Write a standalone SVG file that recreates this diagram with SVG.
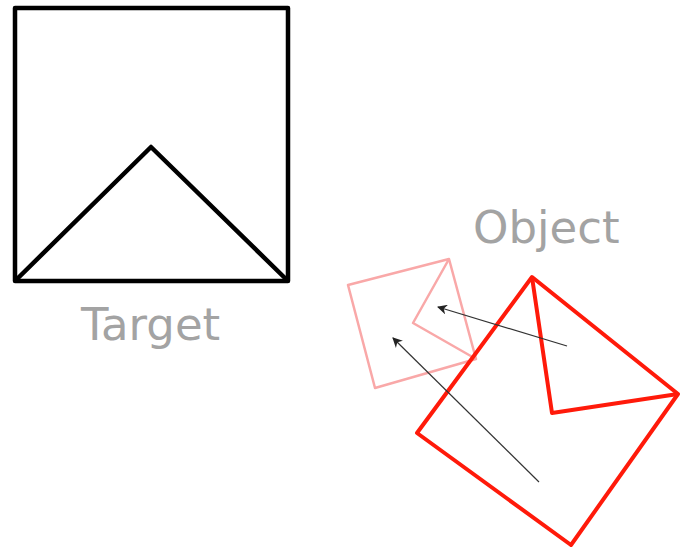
<svg xmlns="http://www.w3.org/2000/svg" width="680" height="554" viewBox="0 0 680 554">
<style>
.lbl{font-family:"DejaVu Sans",sans-serif;font-size:45px;fill:#a3a3a3}
.tgt{fill:none;stroke:#000;stroke-width:4.5;stroke-linejoin:round}
.obj{fill:none;stroke:#ff1a0a;stroke-width:4;stroke-linejoin:round}
.ghost{fill:none;stroke:#f9a8a8;stroke-width:2.5;stroke-linejoin:round}
.arr{fill:none;stroke:#333;stroke-width:1.2;marker-end:url(#ah)}
</style>
<defs>
<marker id="ah" viewBox="0 0 10 10" refX="9" refY="5" markerWidth="12" markerHeight="10" markerUnits="userSpaceOnUse" orient="auto">
<path d="M0,0 L10,5 L0,10 L3,5 Z" fill="#222"/>
</marker>
</defs>
<rect width="680" height="554" fill="#fff"/>
<g id="target">
<rect class="tgt" x="15" y="8" width="273" height="273"/>
<polyline class="tgt" points="15,281 151,147 288,281"/>
<text class="lbl" x="81" y="340">Target</text>
</g>
<g id="ghost">
<polygon class="ghost" points="449,259 348,285 375,388 476,359"/>
<polyline class="ghost" points="449,259 413,323 476,359"/>
</g>
<g id="object">
<polygon class="obj" points="532,277 678,394 571,545 417,433"/>
<polyline class="obj" points="532,277 552,413 678,394"/>
<text class="lbl" x="473" y="243">Object</text>
</g>
<g id="connectors">
<line class="arr" x1="567" y1="346" x2="438" y2="307"/>
<line class="arr" x1="539" y1="482" x2="393" y2="338"/>
</g>
</svg>
